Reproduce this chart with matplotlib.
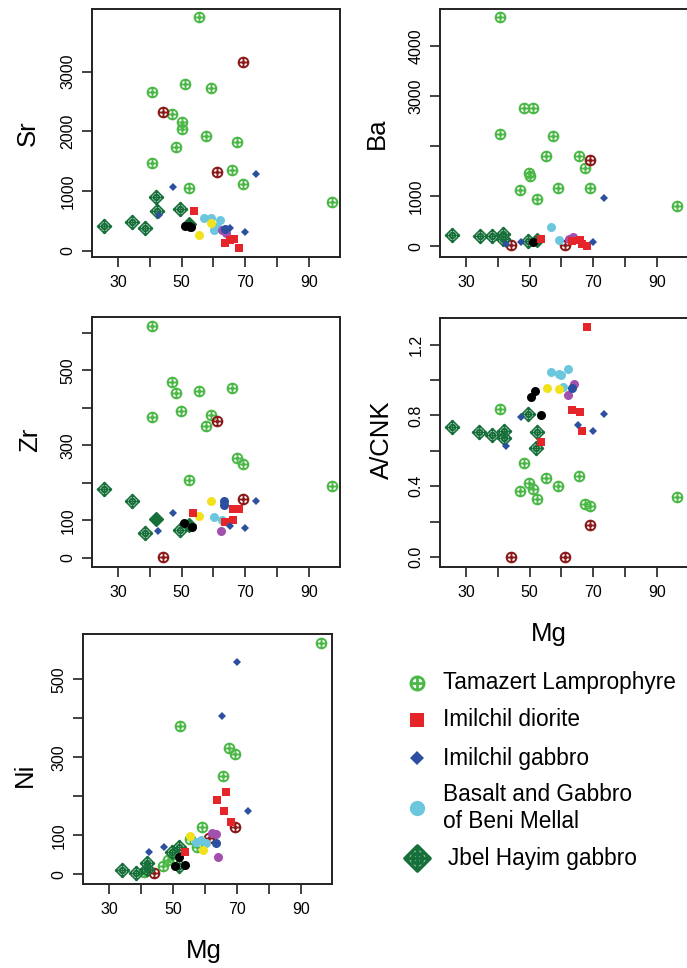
import matplotlib
matplotlib.use('Agg')
import matplotlib.pyplot as plt
from matplotlib.path import Path

plt.rcParams['font.family'] = ['Liberation Sans', 'DejaVu Sans']

# ---- data: (Mg, value) per group ----
sr = {
    'lamp': ([55.3, 40.8, 51.2, 59.3, 47.1, 50.0, 50.0, 57.5, 67.4, 48.3, 40.8, 65.7, 69.2, 52.3, 97.2],
             [3910, 2665, 2790, 2720, 2290, 2160, 2040, 1920, 1830, 1730, 1475, 1350, 1110, 1045, 820]),
    'darkred': ([69.2, 44.2, 61.1], [3170, 2330, 1325]),
    'diorite': ([53.8, 63.7, 65.2, 66.4, 68.1], [665, 134, 179, 190, 39]),
    'gabbro': ([47.3, 73.3, 65.3, 70.0, 42.9], [1060, 1285, 375, 318, 598]),
    'bluecirc': ([63.6], [370]),
    'beni': ([57.0, 59.3, 62.2, 60.1, 61.0], [542, 542, 514, 346, 400]),
    'yellow': ([55.3, 59.3], [263, 458]),
    'purple': ([62.7, 63.9], [346, 290]),
    'black': ([50.9, 52.2, 53.0], [413, 420, 402]),
    'jbel': ([25.6, 34.5, 38.4, 41.9, 42.3, 49.6], [413, 486, 374, 905, 670, 693]),
    'jbelfill': ([52.3], [447]),
}

ba = {
    'lamp': ([40.6, 48.3, 51.2, 40.7, 57.4, 55.0, 65.5, 67.3, 49.8, 50.0, 47.0, 59.0, 69.1, 52.2, 96.4],
             [4590, 2770, 2770, 2250, 2210, 1800, 1800, 1570, 1470, 1410, 1130, 1170, 1170, 950, 800]),
    'darkred': ([69.1, 44.1, 61.1], [1730, 20, 20]),
    'diorite': ([53.5, 63.4, 65.7, 66.5, 68.1], [147, 100, 120, 40, 0]),
    'gabbro': ([73.5, 47.2, 69.8, 42.5], [970, 80, 80, 40]),
    'beni': ([56.8, 59.2], [380, 133]),
    'purple': ([63.6, 62.3], [187, 147]),
    'black': ([50.9], [87]),
    'jbel': ([25.5, 34.4, 38.3, 41.7, 41.7, 49.6], [227, 213, 200, 253, 147, 100]),
    'jbelfill': ([52.4], [133]),
}

zr = {
    'lamp': ([40.8, 47.0, 48.3, 55.3, 65.7, 49.9, 40.8, 59.2, 57.5, 67.4, 69.2, 52.2, 97.2],
             [617, 469, 440, 444, 454, 391, 376, 380, 351, 267, 251, 207, 191]),
    'darkred': ([61.0, 69.2, 44.1], [364, 156, 2]),
    'diorite': ([53.7, 63.6, 66.3, 66.0, 68.1], [120, 96, 102, 131, 131]),
    'gabbro': ([47.2, 42.7, 65.3, 70.0, 73.3], [120, 72, 84, 80, 151]),
    'bluecirc': ([63.4, 63.4], [152, 140]),
    'beni': ([60.3, 62.7], [109, 102]),
    'yellow': ([59.2, 55.4], [152, 112]),
    'purple': ([62.4], [73]),
    'black': ([50.6, 53.3], [94, 82]),
    'jbel': ([25.5, 34.4, 38.4, 49.5], [184, 153, 67, 75]),
    'jbelfill': ([42.0, 52.2], [103, 88]),
}

acnk = {
    'lamp': ([40.7, 48.3, 47.0, 49.8, 51.1, 52.2, 55.0, 59.0, 65.5, 67.3, 69.1, 96.4],
             [0.835, 0.529, 0.372, 0.416, 0.382, 0.329, 0.444, 0.403, 0.457, 0.299, 0.287, 0.340]),
    'darkred': ([69.1, 44.1, 61.1], [0.180, 0.0, 0.0]),
    'diorite': ([68.1, 63.4, 65.8, 66.5, 53.7], [1.30, 0.832, 0.822, 0.714, 0.648]),
    'gabbro': ([47.2, 73.5, 65.3, 69.8, 42.5], [0.790, 0.809, 0.747, 0.714, 0.629]),
    'bluecirc': ([63.4], [0.954]),
    'beni': ([56.8, 59.2, 60.0, 62.1, 60.5], [1.045, 1.036, 1.026, 1.064, 0.960]),
    'yellow': ([55.3, 59.2], [0.958, 0.949]),
    'purple': ([63.9, 62.1], [0.979, 0.917]),
    'black': ([51.7, 50.5, 53.5], [0.939, 0.907, 0.800]),
    'jbel': ([25.5, 34.2, 38.3, 41.8, 41.8, 49.6, 52.2, 52.1],
             [0.737, 0.709, 0.690, 0.714, 0.671, 0.809, 0.705, 0.614]),
}

ni = {
    'lamp': ([96.5, 52.3, 67.4, 69.3, 65.8, 59.1, 55.3, 57.5, 46.8, 48.3, 49.9, 41.0],
             [594, 379, 323, 309, 251, 121, 90, 69, 21, 37, 41, 7]),
    'darkred': ([69.3, 61.2, 44.1], [121, 92, 3]),
    'diorite': ([66.6, 63.7, 65.9, 68.2, 53.8], [210, 191, 162, 133, 56]),
    'gabbro': ([70.1, 65.4, 73.5, 42.6, 47.3], [544, 406, 162, 56, 71]),
    'bluecirc': ([63.5], [81]),
    'beni': ([58.8, 57.2, 60.4], [88, 82, 80]),
    'yellow': ([55.3, 59.5], [97, 62]),
    'purple': ([62.2, 63.5, 64.2], [107, 103, 44]),
    'black': ([52.0, 50.7, 53.6], [45, 20, 24]),
    'jbel': ([34.0, 38.4, 41.8, 41.8, 49.7, 52.0, 52.0], [11, 4, 30, 13, 58, 71, 21]),
}

x_ticks = [30, 40, 50, 60, 70, 80, 90]
x_labels = ['30', '', '50', '', '70', '', '90']

legend_labels = ['Tamazert Lamprophyre', 'Imilchil diorite', 'Imilchil gabbro',
                 'Basalt and Gabbro\nof Beni Mellal', 'Jbel Hayim gabbro']

# ---- marker shapes ----
circ = Path.unit_circle()
plus = Path([[-1, 0], [1, 0], [0, -1], [0, 1]],
            [Path.MOVETO, Path.LINETO, Path.MOVETO, Path.LINETO])
CIRCLE_PLUS = Path.make_compound_path(circ, plus)
diam = Path([[0, 1], [1, 0], [0, -1], [-1, 0], [0, 1]],
            [Path.MOVETO, Path.LINETO, Path.LINETO, Path.LINETO, Path.CLOSEPOLY])
small_circ = Path(circ.vertices * 0.42, circ.codes)
DIAMOND_PLUS = Path.make_compound_path(diam, small_circ, plus)

GREEN = '#4cb848'
DARKRED = '#8b1a1a'
RED = '#e6252a'
BLUE = '#2c4fa0'
CYAN = '#6cc7de'
DKGREEN = '#17703a'

styles = {
    'lamp': dict(marker=CIRCLE_PLUS, ms=7, mfc='none', mec=GREEN, mew=1.4),
    'darkred': dict(marker=CIRCLE_PLUS, ms=7, mfc='none', mec=DARKRED, mew=1.4),
    'jbel': dict(marker=DIAMOND_PLUS, ms=10, mfc='none', mec=DKGREEN, mew=1.2),
    'jbelfill': dict(marker='D', ms=7.5, mfc=DKGREEN, mec=DKGREEN, mew=1),
    'beni': dict(marker='o', ms=6.5, mfc=CYAN, mec=CYAN, mew=0),
    'black': dict(marker='o', ms=6.5, mfc='black', mec='black', mew=0),
    'yellow': dict(marker='o', ms=6.5, mfc='#f2e21c', mec='#f2e21c', mew=0),
    'purple': dict(marker='o', ms=6.5, mfc='#a24fae', mec='#a24fae', mew=0),
    'bluecirc': dict(marker='o', ms=6.5, mfc=BLUE, mec=BLUE, mew=0),
    'diorite': dict(marker='s', ms=5.8, mfc=RED, mec=RED, mew=0),
    'gabbro': dict(marker='D', ms=4.2, mfc=BLUE, mec=BLUE, mew=0),
}
draw_order = ['lamp', 'darkred', 'jbel', 'jbelfill', 'beni', 'black', 'yellow',
              'purple', 'bluecirc', 'diorite', 'gabbro']

W, H = 687, 968
fig = plt.figure(figsize=(W / 100, H / 100), dpi=100)


def px_axes(x0, y0, x1, y1):
    return fig.add_axes([x0 / W, 1 - y1 / H, (x1 - x0) / W, (y1 - y0) / H])


def panel(box, data, ylim, yticks, ylabels, ylab, ylab_xy, xlab_xy=None):
    ax = px_axes(*box)
    for key in draw_order:
        if key in data:
            xs, ys = data[key]
            ax.plot(xs, ys, ls='none', **styles[key])
    ax.set_xlim(21.8, 99.8)
    ax.set_ylim(*ylim)
    ax.set_xticks(x_ticks)
    ax.set_xticklabels(x_labels)
    ax.set_yticks(yticks)
    ax.set_yticklabels(ylabels, rotation=90, va='center')
    ax.tick_params(labelsize=11.5, length=7, width=1.2, pad=5, color='#222222')
    ax.tick_params(axis='x', pad=6)
    for s in ax.spines.values():
        s.set_linewidth(1.4)
        s.set_color('#222222')
    fig.text(ylab_xy[0] / W, 1 - ylab_xy[1] / H, ylab, rotation=90,
             ha='center', va='center', fontsize=18.5)
    if xlab_xy:
        fig.text(xlab_xy[0] / W, 1 - xlab_xy[1] / H, 'Mg',
                 ha='center', va='center', fontsize=18.5)
    return ax


panel((92, 9, 340, 257), sr, (-105, 4050), [0, 1000, 2000, 3000],
      ['0', '1000', '2000', '3000'], 'Sr', (28, 133))
panel((440, 9, 688, 257), ba, (-213, 4747), [0, 1000, 2000, 3000, 4000],
      ['0', '1000', '', '3000', '4000'], 'Ba', (377, 133))
panel((92, 317, 340, 567), zr, (-24, 642), [0, 100, 200, 300, 400, 500, 600],
      ['0', '100', '', '300', '', '500', ''], 'Zr', (30, 440))
panel((440, 318, 688, 567), acnk, (-0.057, 1.351), [0, 0.2, 0.4, 0.6, 0.8, 1.0, 1.2],
      ['0.0', '', '0.4', '', '0.8', '', '1.2'], 'A/CNK', (382, 440), (549, 634))
panel((83, 634, 332, 884), ni, (-25, 616), [0, 100, 200, 300, 400, 500],
      ['0', '100', '', '300', '', '500'], 'Ni', (25, 775), (204, 951))

# ---- legend ----
lg = fig.add_axes([0, 0, 1, 1])
lg.set_xlim(0, W)
lg.set_ylim(H, 0)
lg.axis('off')
leg_styles = [
    dict(marker=CIRCLE_PLUS, ms=9.5, mfc='none', mec=GREEN, mew=2),
    dict(marker='s', ms=10, mfc=RED, mec=RED, mew=0),
    dict(marker='D', ms=7, mfc=BLUE, mec=BLUE, mew=0),
    dict(marker='o', ms=11, mfc=CYAN, mec=CYAN, mew=0),
    dict(marker=DIAMOND_PLUS, ms=18, mfc='none', mec=DKGREEN, mew=2.6),
]
leg_rows = [683, 720, 758, 808, 858]
leg_text_x = [443, 443, 443, 443, 448]
for st, yy, tx, lab in zip(leg_styles, leg_rows, leg_text_x, legend_labels):
    lg.plot([417], [yy], ls='none', **st)
    lg.text(tx, yy, lab, ha='left', va='center', fontsize=16.3, linespacing=1.2)

fig.savefig('out.png', dpi=100)
